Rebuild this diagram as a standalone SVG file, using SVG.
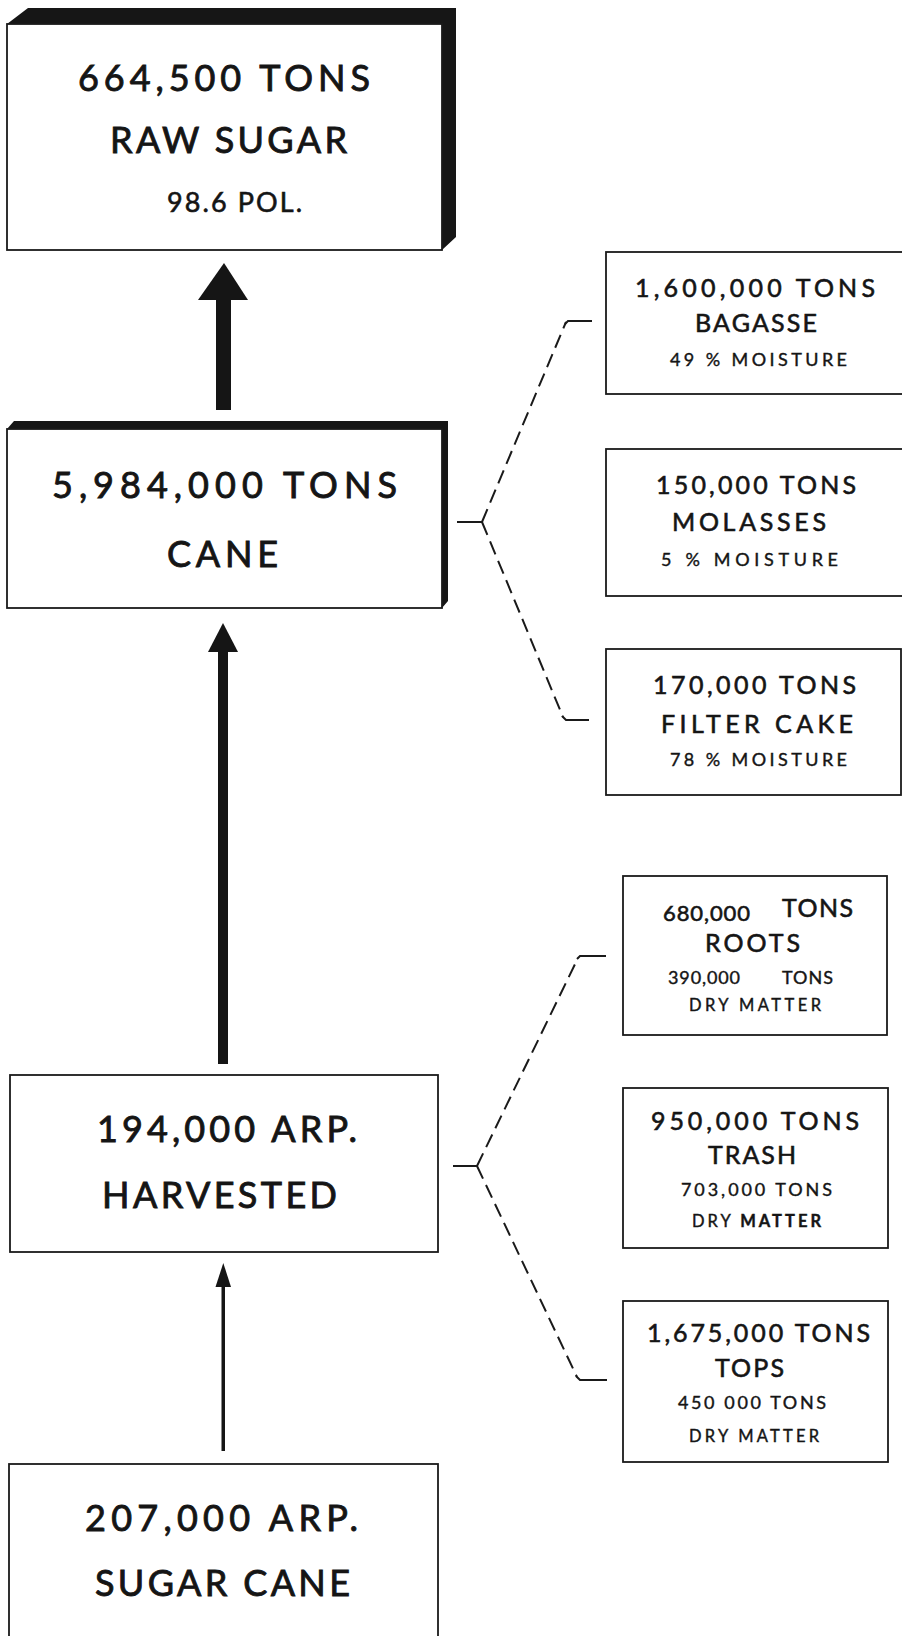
<svg xmlns="http://www.w3.org/2000/svg" width="902" height="1636" viewBox="0 0 902 1636">
<style>
text{font-family:Lato,"Liberation Sans","DejaVu Sans",sans-serif;fill:#151515;stroke:#151515;stroke-width:0.6;}
.box{fill:#fff;stroke:#1a1a1a;stroke-width:1.8;}
.shadow{fill:#161616;}
.big{font-size:36px;stroke-width:0.9;}
.mid{font-size:25px;}
.sm{font-size:18px;stroke-width:0.4;}
.xs{font-size:16.5px;stroke-width:0.4;}
.dash{fill:none;stroke:#1a1a1a;stroke-width:2;stroke-dasharray:14 7;}
.solid{fill:none;stroke:#1a1a1a;stroke-width:2;}
.arrow{fill:#151515;}
</style>

<g id="connectors">
  <g id="arrow-cane-to-sugar">
    <rect class="arrow" x="216" y="299" width="15" height="111"/>
    <polygon class="arrow" points="224,263 198,300 248,300"/>
  </g>
  <g id="arrow-harvested-to-cane">
    <rect class="arrow" x="218" y="651" width="10" height="413"/>
    <polygon class="arrow" points="223,623 208,652 238,652"/>
  </g>
  <g id="arrow-sugarcane-to-harvested">
    <rect class="arrow" x="221.5" y="1285" width="3.5" height="166"/>
    <polygon class="arrow" points="223.3,1263 215.5,1287 231,1287"/>
  </g>
  <g id="bracket-cane">
    <path class="solid" d="M457,522 H482"/>
    <path class="dash" d="M482,522 L566,322"/>
    <path class="solid" d="M565,324 L568,321 H592"/>
    <path class="dash" d="M482,522 L563,717"/>
    <path class="solid" d="M562,716 L566,720 H589"/>
  </g>
  <g id="bracket-harvested">
    <path class="solid" d="M453,1166 H477"/>
    <path class="dash" d="M477,1166 L578,958"/>
    <path class="solid" d="M577,959 L580,956 H606"/>
    <path class="dash" d="M477,1166 L577,1377"/>
    <path class="solid" d="M576,1376 L580,1380 H607"/>
  </g>
</g>

<g id="node-raw-sugar">
  <polygon class="shadow" points="7,24 28,8 456,8 456,237 442,250 442,24"/>
  <rect class="box" x="7" y="24" width="435" height="226"/>
  <text class="big" x="78" y="91" textLength="292" lengthAdjust="spacing">664,500 TONS</text>
  <text class="big" x="110" y="153" textLength="237" lengthAdjust="spacing">RAW SUGAR</text>
  <text x="167" y="212" font-size="27" textLength="135" lengthAdjust="spacing">98.6 POL.</text>
</g>

<g id="node-cane">
  <polygon class="shadow" points="7,429 14,421 448,421 448,601 442,608 442,429"/>
  <rect class="box" x="7" y="429" width="435" height="179" stroke-width="2.2"/>
  <text class="big" x="52" y="498" textLength="345" lengthAdjust="spacing">5,984,000 TONS</text>
  <text class="big" x="167" y="567" textLength="111" lengthAdjust="spacing">CANE</text>
</g>

<g id="node-harvested">
  <rect class="box" x="10" y="1075" width="428" height="177"/>
  <text class="big" x="97" y="1142" textLength="260" lengthAdjust="spacing">194,000 ARP.</text>
  <text class="big" x="102" y="1208" textLength="235" lengthAdjust="spacing">HARVESTED</text>
</g>

<g id="node-sugar-cane">
  <rect class="box" x="9" y="1464" width="429" height="200"/>
  <text class="big" x="85" y="1531" textLength="273" lengthAdjust="spacing">207,000 ARP.</text>
  <text class="big" x="95" y="1596" textLength="255" lengthAdjust="spacing">SUGAR CANE</text>
</g>

<g id="node-bagasse">
  <rect class="box" x="606" y="252" width="300" height="142"/>
  <text class="mid" x="635" y="297" textLength="240" lengthAdjust="spacing">1,600,000 TONS</text>
  <text class="mid" x="695" y="332" textLength="122" lengthAdjust="spacing">BAGASSE</text>
  <text class="sm" x="670" y="366" textLength="177" lengthAdjust="spacing">49 % MOISTURE</text>
</g>

<g id="node-molasses">
  <rect class="box" x="606" y="449" width="300" height="147"/>
  <text class="mid" x="656" y="494" textLength="200" lengthAdjust="spacing">150,000 TONS</text>
  <text class="mid" x="672" y="531" textLength="154" lengthAdjust="spacing">MOLASSES</text>
  <text class="sm" x="661" y="566" textLength="177" lengthAdjust="spacing">5 %  MOISTURE</text>
</g>

<g id="node-filter-cake">
  <rect class="box" x="606" y="649" width="295" height="146"/>
  <text class="mid" x="653" y="694" textLength="203" lengthAdjust="spacing">170,000 TONS</text>
  <text class="mid" x="661" y="733" textLength="192" lengthAdjust="spacing">FILTER  CAKE</text>
  <text class="sm" x="670" y="766" textLength="177" lengthAdjust="spacing">78 % MOISTURE</text>
</g>

<g id="node-roots">
  <rect class="box" x="623" y="876" width="264" height="159"/>
  <text x="663" y="921" font-size="22" textLength="87" lengthAdjust="spacing">680,000</text>
  <text class="mid" x="782" y="917" textLength="71" lengthAdjust="spacing">TONS</text>
  <text class="mid" x="705" y="952" textLength="95" lengthAdjust="spacing">ROOTS</text>
  <text class="sm" x="668" y="984" textLength="72" lengthAdjust="spacing">390,000</text>
  <text class="sm" x="782" y="984" textLength="51" lengthAdjust="spacing">TONS</text>
  <text class="xs" x="689" y="1011" textLength="132" lengthAdjust="spacing">DRY MATTER</text>
</g>

<g id="node-trash">
  <rect class="box" x="623" y="1088" width="265" height="160"/>
  <text class="mid" x="651" y="1130" textLength="208" lengthAdjust="spacing">950,000 TONS</text>
  <text class="mid" x="708" y="1164" textLength="88" lengthAdjust="spacing">TRASH</text>
  <text class="sm" x="681" y="1196" textLength="151" lengthAdjust="spacing">703,000 TONS</text>
  <text class="xs" x="692" y="1227" textLength="129" lengthAdjust="spacing">DRY <tspan font-weight="bold">MATTER</tspan></text>
</g>

<g id="node-tops">
  <rect class="box" x="623" y="1301" width="265" height="161"/>
  <text class="mid" x="647" y="1342" textLength="223" lengthAdjust="spacing">1,675,000  TONS</text>
  <text class="mid" x="715" y="1377" textLength="69" lengthAdjust="spacing">TOPS</text>
  <text class="sm" x="678" y="1409" textLength="148" lengthAdjust="spacing">450 000 TONS</text>
  <text class="xs" x="689" y="1442" textLength="130" lengthAdjust="spacing">DRY MATTER</text>
</g>
</svg>
